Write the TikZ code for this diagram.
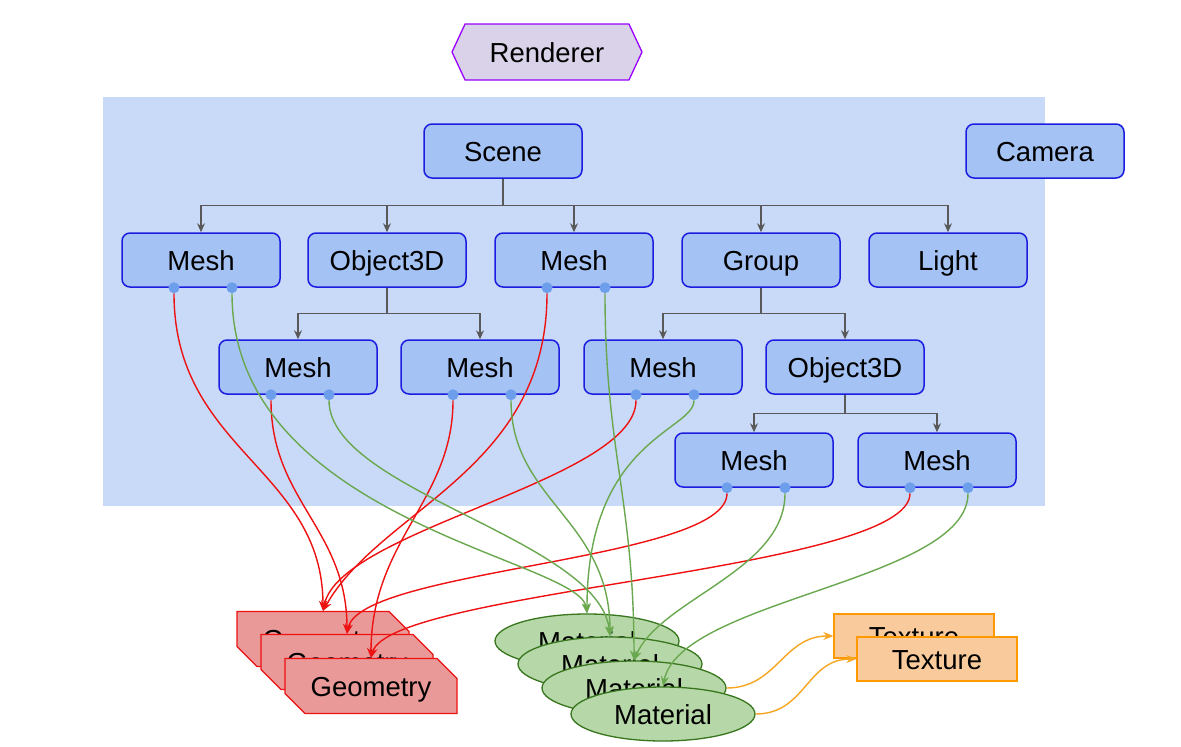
\documentclass[tikz,border=0pt]{standalone}
\usepackage{fontspec}
\setmainfont{Liberation Sans}
\usetikzlibrary{shapes.geometric,shapes.misc,shapes.symbols,arrows.meta}
\definecolor{bgblue}{HTML}{C9DAF8}
\definecolor{nodeblue}{HTML}{A4C2F4}
\definecolor{borderblue}{HTML}{1C1CE0}
\definecolor{dotblue}{HTML}{6D9EEB}
\definecolor{treegrey}{HTML}{595959}
\definecolor{geofill}{HTML}{EA9999}
\definecolor{geored}{HTML}{EE1111}
\definecolor{matfill}{HTML}{B6D7A8}
\definecolor{matgreen}{HTML}{38761D}
\definecolor{edgegreen}{HTML}{6AA84F}
\definecolor{texfill}{HTML}{F9CB9C}
\definecolor{texorange}{HTML}{FF9900}
\definecolor{edgeorange}{HTML}{F6A623}
\definecolor{rendfill}{HTML}{D9D2E9}
\definecolor{rendpurple}{HTML}{9900FF}
\tikzset{
 lbl/.style={font=\fontsize{27.5}{32}\selectfont, text=black, text height=20pt, text depth=0pt},
 obj/.style={lbl, rectangle, draw=borderblue, fill=nodeblue, line width=1.5pt, rounded corners=8pt, minimum width=158pt, minimum height=54pt, inner sep=0pt},
 port/.style={circle, fill=dotblue, minimum size=11pt, inner sep=0pt},
 tree/.style={draw=treegrey, line width=1.3pt, -{Stealth[length=9pt,width=8pt]}},
 geo/.style={lbl, chamfered rectangle, chamfered rectangle corners={north east,south west}, chamfered rectangle xsep=10pt, chamfered rectangle ysep=10pt, draw=geored, fill=geofill, line width=1.3pt, minimum width=172pt, minimum height=55pt, inner sep=0pt},
 mat/.style={lbl, ellipse, draw=matgreen, fill=matfill, line width=1.3pt, minimum width=184pt, minimum height=54pt, inner sep=0pt},
 tex/.style={lbl, rectangle, draw=texorange, fill=texfill, line width=1.3pt, minimum width=160pt, minimum height=44pt, inner sep=0pt},
 redge/.style={draw=geored, line width=1.4pt, -{Stealth[length=10pt,width=8pt]}},
 gedge/.style={draw=edgegreen, line width=1.4pt, -{Stealth[length=10pt,width=8pt]}},
 oedge/.style={draw=edgeorange, line width=1.4pt, -{Stealth[length=10pt,width=8pt]}},
 rend/.style={lbl, signal, signal to=west and east, signal pointer angle=130, draw=rendpurple, fill=rendfill, line width=1.3pt, minimum width=190pt, minimum height=56pt, inner sep=0pt}
}
\begin{document}
\begin{tikzpicture}[x=1pt,y=-1pt]
\useasboundingbox (0,0) rectangle (1181,747);
\fill[white] (0,0) rectangle (1181,747);
% renderer
\node[rend] (rend) at (547,52) {Renderer};
% scene background
\fill[bgblue] (103,97) rectangle (1045,506);
% objects
\node[obj] (scene) at (503,151) {Scene};
\node[obj] (camera) at (1045,151) {Camera};
\node[obj] (mA) at (201,260) {Mesh};
\node[obj] (o1) at (387,260) {Object3D};
\node[obj] (mC) at (574,260) {Mesh};
\node[obj] (grp) at (761,260) {Group};
\node[obj] (light) at (948,260) {Light};
\node[obj] (mD) at (298,367) {Mesh};
\node[obj] (mE) at (480,367) {Mesh};
\node[obj] (mF) at (663,367) {Mesh};
\node[obj] (o2) at (845,367) {Object3D};
\node[obj] (mG) at (754,460) {Mesh};
\node[obj] (mH) at (937,460) {Mesh};
% tree
\foreach \c in {mA,o1,mC,grp,light}{\draw[tree] (scene.south) -- ++(0,27) -| (\c.north);}
\foreach \c in {mD,mE}{\draw[tree] (o1.south) -- ++(0,26) -| (\c.north);}
\foreach \c in {mF,o2}{\draw[tree] (grp.south) -- ++(0,26) -| (\c.north);}
\foreach \c in {mG,mH}{\draw[tree] (o2.south) -- ++(0,19) -| (\c.north);}
% ports
\foreach \m in {mA,mC,mD,mE,mF,mG,mH}{
  \node[port] (\m R) at ([xshift=-27pt]\m.south) {};
  \node[port] (\m M) at ([xshift=31pt]\m.south) {};
}
% geometry, material, texture
\node[geo] (g1) at (323,639) {Geometry};
\node[geo] (g2) at (347,662) {Geometry};
\node[geo] (g3) at (371,686) {Geometry};
\node[mat] (m1) at (587,641) {Material};
\node[mat] (m2) at (610,664) {Material};
\node[mat] (m3) at (634,688) {Material};
\node[mat] (m4) at (663,714) {Material};
\node[tex] (t1) at (914,636) {Texture};
\node[tex] (t2) at (937,659) {Texture};
% red edges
\draw[redge] (mAR) .. controls +(0,163) and +(0,-142) .. (g1.north);
\draw[redge] (mDR) .. controls +(0,106) and +(0,-105) .. (g2.north);
\draw[redge] (mER) .. controls +(0,106) and +(0,-118) .. (g3.north);
\draw[redge] (mCR) .. controls +(0,183) and +(57,-102) .. (g1.north);
\draw[redge] (mFR) .. controls +(0,86) and +(17,-82) .. (g1.north);
\draw[redge] (mGR) .. controls +(0,73) and +(13,-65) .. (g2.north);
\draw[redge] (mHR) .. controls +(0,83) and +(19,-68) .. (g3.north);
% green edges
\draw[gedge] (mAM) .. controls +(0,233) and +(-7,-54) .. (m1.north);
\draw[gedge] (mDM) .. controls +(0,96) and +(-10,-97) .. (m2.north);
\draw[gedge] (mEM) .. controls +(0,106) and +(0,-117) .. (m2.north);
\draw[gedge] (mCM) .. controls +(0,163) and +(0,-161) .. (m3.north);
\draw[gedge] (mFM) .. controls +(0,36) and +(0,-174) .. (m1.north);
\draw[gedge] (mGM) .. controls +(0,83) and +(26,-61) .. (m3.north);
\draw[gedge] (mHM) .. controls +(0,93) and +(17,-87) .. (m4.north);
% orange edges
\draw[oedge] (m3.east) .. controls +(50,0) and +(-50,0) .. (t1.west);
\draw[oedge] (m4.east) .. controls +(50,0) and +(-50,0) .. (t2.west);
\end{tikzpicture}
\end{document}
